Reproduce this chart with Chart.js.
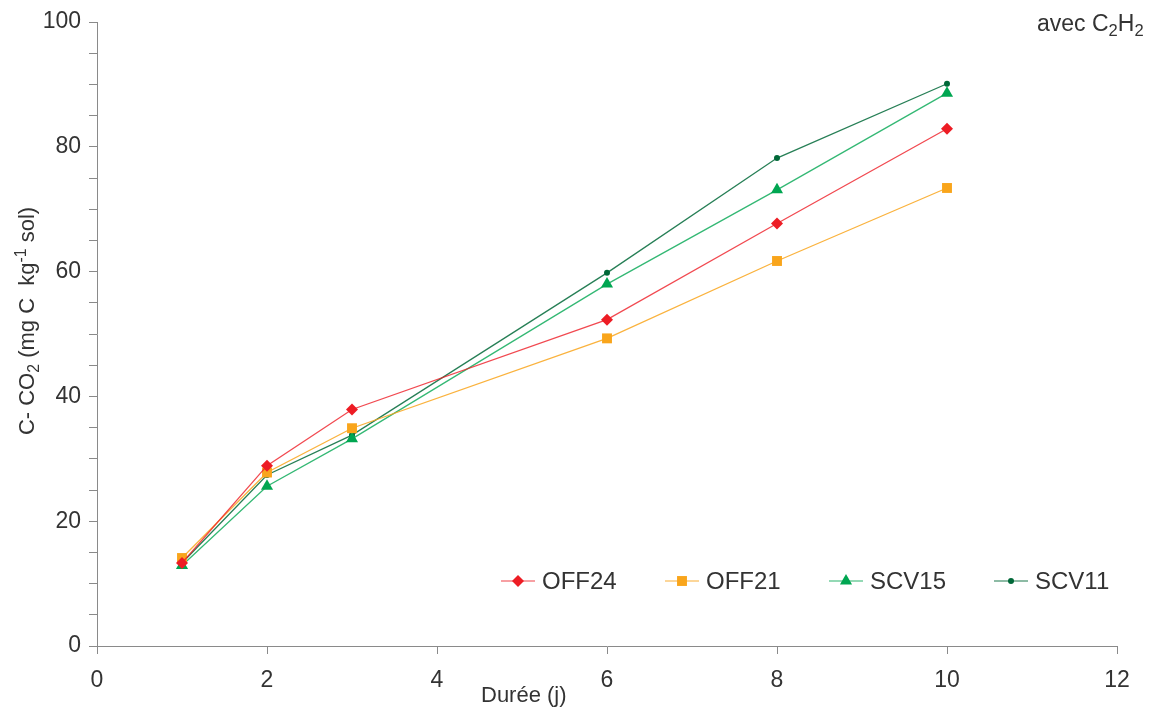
<!DOCTYPE html>
<html>
<head>
<meta charset="utf-8">
<script src="https://cdn.jsdelivr.net/npm/chart.js@4/dist/chart.umd.min.js"></script>
<style>
  body { margin: 0; background: #fff; }
  #wrap { width: 1151px; height: 713px; }
</style>
</head>
<body>
<div id="wrap"><canvas id="co2Chart" width="1151" height="713"></canvas></div>
<script>
// days of incubation
const days = [1, 2, 3, 6, 8, 10];

// C-CO2 released (mg C / kg soil)
const off24 = [13.3, 28.9, 37.9, 52.3, 67.7, 82.9];
const off21 = [14.1, 27.8, 34.9, 49.3, 61.7, 73.4];
const scv15 = [12.9, 25.6, 33.2, 58.0, 73.1, 88.6];
const scv11 = [13.3, 27.4, 33.8, 59.8, 78.2, 90.1];

const seriesNames = ['OFF24', 'OFF21', 'SCV15', 'SCV11'];

const FONT = '"Liberation Sans", Arial, sans-serif';
const TXT = '#333333';
const AXIS = '#8a8a8a';

function pts(vals) {
    return days.map((d, i) => ({ x: d, y: vals[i] }));
}

const styles = [
    { marker: '#ED1C24', line: 'rgba(237, 28, 36, 0.8)', shape: 'rectRot', r: 6 },
    { marker: '#F9A51B', line: 'rgba(249, 165, 27, 0.85)', shape: 'rect', r: 7 },
    { marker: '#00A651', line: 'rgba(0, 166, 81, 0.8)', shape: 'triangle', r: 7 },
    { marker: '#006838', line: 'rgba(0, 104, 56, 0.85)', shape: 'circle', r: 3 }
];

const allData = [off24, off21, scv15, scv11];

const datasets = allData.map((vals, i) => ({
    label: seriesNames[i],
    data: pts(vals),
    borderColor: styles[i].line,
    backgroundColor: styles[i].marker,
    pointBackgroundColor: styles[i].marker,
    pointBorderColor: styles[i].marker,
    pointBorderWidth: 0,
    pointStyle: styles[i].shape,
    pointRadius: styles[i].r,
    borderWidth: 1.3,
    tension: 0,
    fill: false
}));

// draws text pieces with sub/superscripts, starting at x on baseline y
function richText(ctx, parts, x, y, size) {
    let cx = x;
    parts.forEach(p => {
        const s = p.v ? size * 0.72 : size;
        ctx.font = s + 'px ' + FONT;
        let dy = 0;
        if (p.v === 'sub') dy = size * 0.22;
        if (p.v === 'sup') dy = -size * 0.38;
        ctx.fillText(p.t, cx, y + dy);
        cx += ctx.measureText(p.t).width;
    });
    return cx - x;
}
function richWidth(ctx, parts, size) {
    let w = 0;
    parts.forEach(p => {
        ctx.font = (p.v ? size * 0.72 : size) + 'px ' + FONT;
        w += ctx.measureText(p.t).width;
    });
    return w;
}

const extras = {
    id: 'extras',
    afterDraw(chart) {
        const ctx = chart.ctx;
        ctx.save();
        ctx.fillStyle = TXT;
        ctx.textAlign = 'left';
        ctx.textBaseline = 'alphabetic';

        // y axis title
        const yParts = [
            { t: 'C- CO' }, { t: '2', v: 'sub' }, { t: ' (mg C  kg' },
            { t: '-1', v: 'sup' }, { t: ' sol)' }
        ];
        const yw = richWidth(ctx, yParts, 22);
        ctx.save();
        ctx.translate(26, 321);
        ctx.rotate(-Math.PI / 2);
        richText(ctx, yParts, -yw / 2, 8, 22);
        ctx.restore();

        // x axis title
        ctx.font = '22px ' + FONT;
        ctx.fillText('Durée (j)', 481, 702);

        // top-right note
        richText(ctx, [{ t: 'avec C' }, { t: '2', v: 'sub' }, { t: 'H' }, { t: '2', v: 'sub' }], 1037, 31, 23);

        // legend: short line + marker + name
        const legY = 581;
        const legX = [518, 682, 846, 1011];
        chart.data.datasets.forEach((ds, i) => {
            const mx = legX[i];
            ctx.strokeStyle = ds.borderColor;
            ctx.globalAlpha = 0.7;
            ctx.lineWidth = 1.5;
            ctx.beginPath();
            ctx.moveTo(mx - 17, legY);
            ctx.lineTo(mx + 17, legY);
            ctx.stroke();
            ctx.globalAlpha = 1;
            ctx.fillStyle = ds.pointBackgroundColor;
            ctx.strokeStyle = ds.pointBackgroundColor;
            Chart.helpers.drawPoint(ctx, {
                pointStyle: ds.pointStyle,
                radius: ds.pointRadius,
                rotation: 0,
                borderWidth: 0
            }, mx, legY);
            ctx.fillStyle = TXT;
            ctx.font = '24px ' + FONT;
            ctx.textBaseline = 'middle';
            ctx.fillText(ds.label, mx + 24, legY + 1);
            ctx.textBaseline = 'alphabetic';
        });
        ctx.restore();
    }
};

new Chart(document.getElementById('co2Chart').getContext('2d'), {
    type: 'line',
    data: { datasets: datasets },
    options: {
        responsive: false,
        animation: false,
        events: [],
        layout: { padding: { left: 0, top: 22, right: 34, bottom: 0 } },
        plugins: {
            legend: { display: false },
            tooltip: { enabled: false }
        },
        scales: {
            x: {
                type: 'linear',
                min: 0,
                max: 12,
                afterFit: s => { s.height = 67; },
                ticks: {
                    stepSize: 2,
                    color: TXT,
                    padding: 13,
                    font: { family: FONT, size: 23 }
                },
                grid: { drawOnChartArea: false, tickLength: 8, color: AXIS },
                border: { color: AXIS, width: 1 }
            },
            y: {
                min: 0,
                max: 100,
                afterFit: s => { s.width = 97; },
                ticks: {
                    stepSize: 5,
                    autoSkip: false,
                    color: TXT,
                    padding: 8,
                    font: { family: FONT, size: 23 },
                    callback: v => (v % 20 === 0 ? v : '')
                },
                grid: { drawOnChartArea: false, tickLength: 8, color: AXIS },
                border: { color: AXIS, width: 1 }
            }
        }
    },
    plugins: [extras]
});
</script>
</body>
</html>
